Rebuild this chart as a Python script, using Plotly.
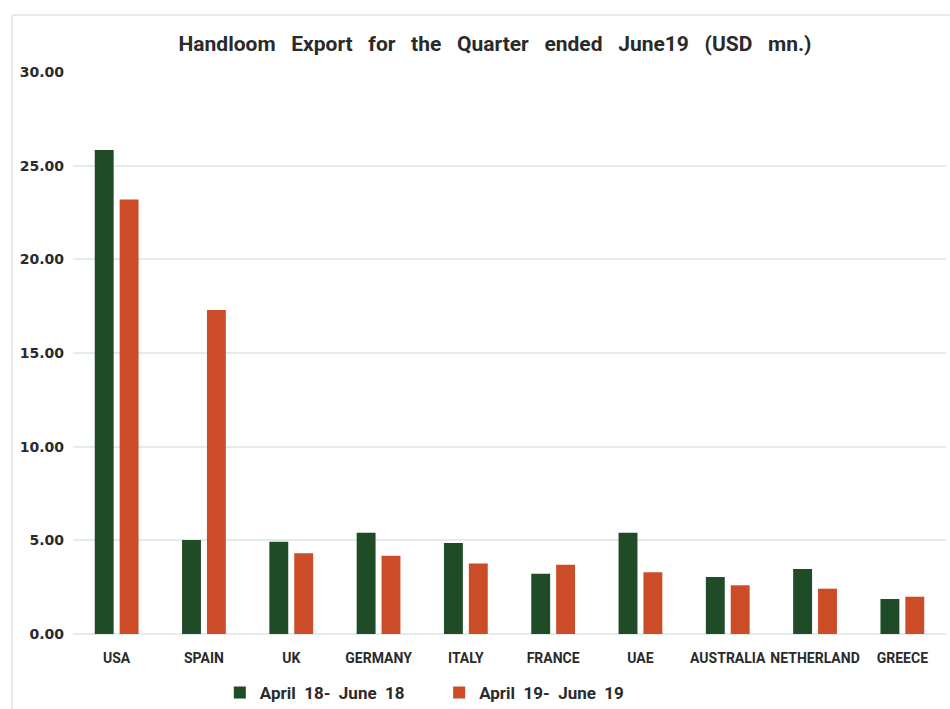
import plotly.graph_objects as go

# Handloom exports by destination, USD million
countries = ["USA", "SPAIN", "UK", "GERMANY", "ITALY", "FRANCE", "UAE",
             "AUSTRALIA", "NETHERLAND", "GREECE"]
q_2018 = [25.84, 5.02, 4.93, 5.41, 4.86, 3.22, 5.41, 3.04, 3.47, 1.87]
q_2019 = [23.20, 17.30, 4.31, 4.18, 3.77, 3.70, 3.29, 2.60, 2.42, 1.99]
series_names = ["April  18-  June  18", "April  19-  June  19"]
y_ticks = [0, 5, 10, 15, 20, 25, 30]
title_text = "Handloom   Export   for   the   Quarter   ended   June19   (USD   mn.)"

NB = "\u00a0"
def keep_spaces(s):
    return s.replace(" ", NB)

GREEN = "#1f4b27"
ORANGE = "#cc4c27"
TEXT = "#2a2a2a"
FONT = "Roboto, sans-serif"

legend_labels = [
    "<b>" + keep_spaces(series_names[0]) + NB * 7 + "</b>",
    "<b>" + keep_spaces(series_names[1]) + "</b>",
]

fig = go.Figure()
fig.add_trace(go.Bar(x=countries, y=q_2018, name=legend_labels[0],
                     marker=dict(color=GREEN, line=dict(width=0))))
fig.add_trace(go.Bar(x=countries, y=q_2019, name=legend_labels[1],
                     marker=dict(color=ORANGE, line=dict(width=0))))

fig.update_layout(
    width=950, height=709,
    paper_bgcolor="white", plot_bgcolor="white",
    margin=dict(l=73, r=4, t=72, b=75, autoexpand=False),
    barmode="group", bargap=0.43, bargroupgap=0.24,
    title=dict(text="<b>" + keep_spaces(title_text) + "</b>",
               x=0.521, xanchor="center", y=0.938, yanchor="middle",
               font=dict(family=FONT, size=21, color=TEXT)),
    legend=dict(orientation="h", x=0.403, xanchor="center",
                yref="container", y=1 - 693 / 709, yanchor="middle",
                font=dict(family=FONT, size=17, color=TEXT),
                itemwidth=30, tracegroupgap=0, itemsizing="constant",
                traceorder="normal"),
    font=dict(family=FONT, color=TEXT),
    showlegend=True,
)
fig.update_xaxes(showgrid=False, showline=False, zeroline=False, ticks="",
                 tickfont=dict(family=FONT, size=14, color=TEXT),
                 tickprefix="<b>", ticksuffix="</b>", ticklabelstandoff=14)
fig.update_yaxes(range=[0, 30], tickvals=y_ticks,
                 ticktext=["<b>%.2f</b>" % v for v in y_ticks],
                 tickfont=dict(family="DejaVu Sans", size=14, color=TEXT),
                 showgrid=True, gridcolor="#e3ebeb", gridwidth=1.5,
                 zeroline=True, zerolinecolor="#e3ebeb", zerolinewidth=1.5,
                 showline=False, ticks="", ticklabelstandoff=8)

# light frame around the chart area
fig.add_shape(type="line", xref="paper", yref="paper",
              x0=-61 / 873, x1=1.01, y0=1 + 57 / 562, y1=1 + 57 / 562,
              line=dict(color="#e6ecec", width=2))
fig.add_shape(type="line", xref="paper", yref="paper",
              x0=-61 / 873, x1=-61 / 873, y0=1 + 57 / 562, y1=-75 / 562,
              line=dict(color="#e6ecec", width=2))

fig.write_html("out.html")
